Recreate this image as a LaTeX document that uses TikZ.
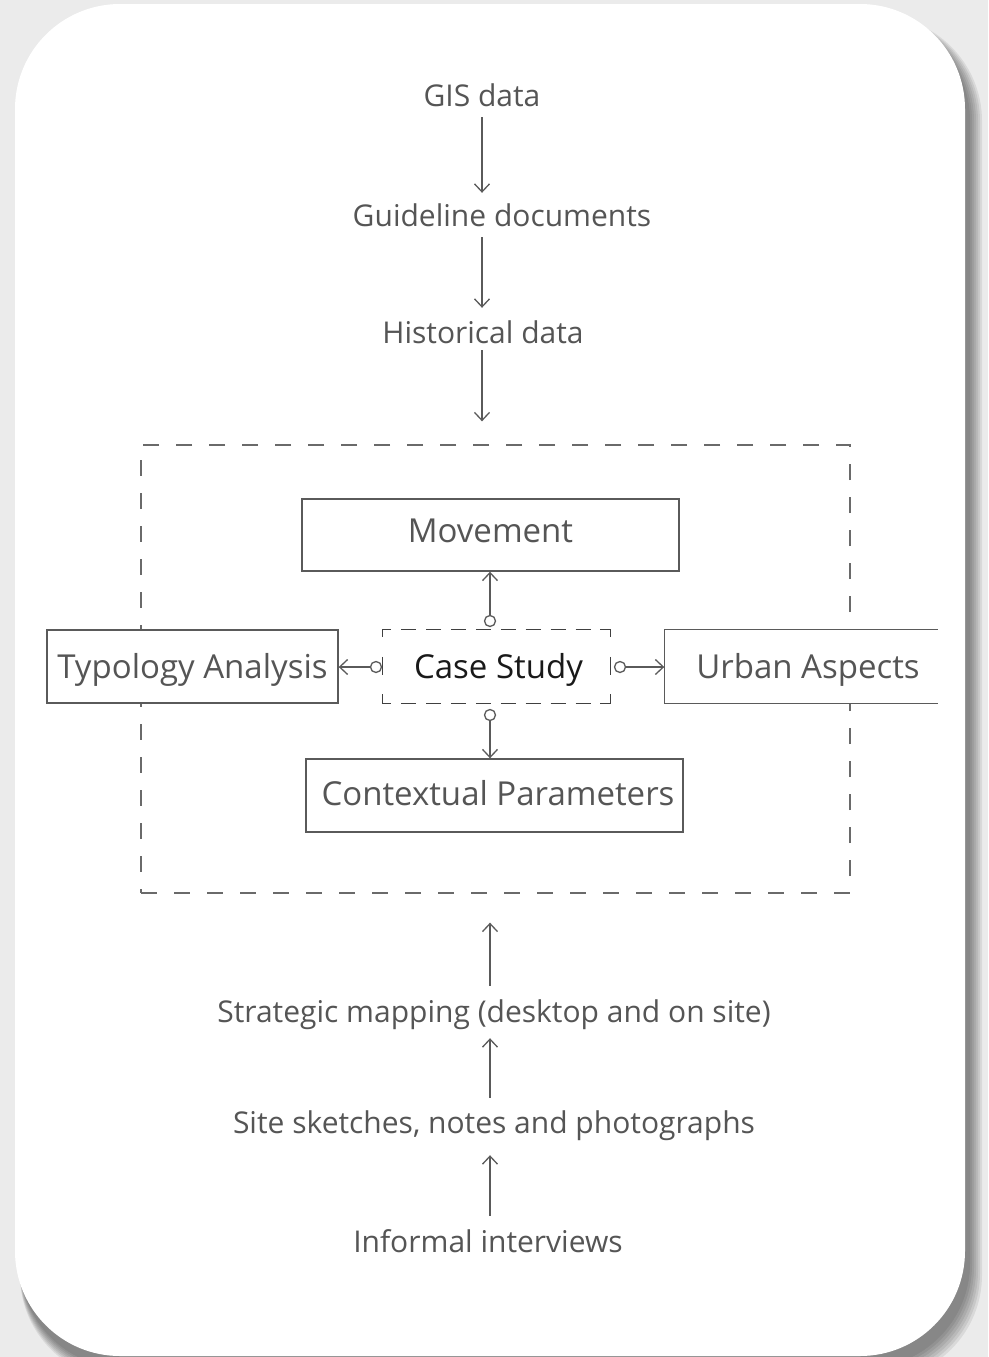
\documentclass[tikz,border=0pt]{standalone}
\usepackage{fontspec}
\setmainfont{Open Sans}
\usetikzlibrary{arrows.meta}
\definecolor{ln}{HTML}{5A5A5A}
\definecolor{dl}{HTML}{6A6A6A}
\definecolor{txt}{HTML}{555555}
\definecolor{bg}{HTML}{EBEBEB}
\begin{document}
\begin{tikzpicture}[x=1pt,y=-1pt,
  lbl/.style={text=txt,font=\fontsize{30}{36}\selectfont,inner sep=0pt,
    text height=21pt,text depth=7pt,anchor=base},
  box/.style={draw=ln,line width=1.4pt,fill=white,text=txt,
    font=\fontsize{33}{40}\selectfont,inner sep=0pt,
    text height=24pt,text depth=8pt},
  conn/.style={draw=ln,line width=1.3pt,
    -{Straight Barb[length=8pt,width=15pt,line width=1.3pt]}},
  ring/.style={circle,draw=ln,line width=1.3pt,fill=white,inner sep=0pt,
    minimum size=11pt}]
\useasboundingbox (0,0) rectangle (988,1357);
% background and card
\fill[bg] (0,0) rectangle (988,1357);
\foreach \d in {0,2,...,12}{
  \fill[black,opacity=0.075,rounded corners=105]
    (20,16) rectangle (970+\d,1368+\d);
}
\fill[white,rounded corners=105] (15,4) rectangle (965,1356);

% top labels
\coordinate (topaxis) at (482,0);
\coordinate (botaxis) at (490,0);
\node[lbl] (gis) at (482,106) {GIS data};
\node[lbl] (guide) at (502,226) {Guideline documents};
\node[lbl] (hist) at (483,343) {Historical data};

% big dashed frame
\node[draw=dl,line width=1.3pt,dash pattern=on 16pt off 17pt,
  minimum width=709pt,minimum height=448pt,inner sep=0pt] (frame) at (495.5,669) {};

% boxes
\node[box,minimum width=377pt,minimum height=72pt] (mov) at (490.5,535) {\raisebox{1pt}{Movement}};
\node[box,minimum width=291pt,minimum height=73pt] (typ) at (192.5,666.5) {\raisebox{-4.3pt}{Typology Analysis}};
\node[box,draw=none,minimum width=272pt,minimum height=73pt] (urb) at (801,666.5) {\hspace*{14pt}\raisebox{-4.3pt}{Urban Aspects}};
\draw[ln,line width=1.4pt] (urb.north east) -- (urb.north west) -- (urb.south west) -- (urb.south east);
\node[box,minimum width=377pt,minimum height=73pt] (ctx) at (494.5,795.5) {\hspace*{7pt}\raisebox{-1.5pt}{Contextual Parameters}};
\node[box,draw=none,text=black!90,minimum width=227pt,minimum height=73pt] (cs) at (496.5,666.5) {\hspace*{4pt}\raisebox{-4.3pt}{Case Study}};
\draw[black!75,line width=1.4pt,dash pattern=on 15pt off 9.9pt,dash phase=6pt]
  (cs.north west) -- (cs.north east);
\draw[black!75,line width=1.4pt,dash pattern=on 15pt off 9.9pt,dash phase=6pt]
  (cs.south west) -- (cs.south east);
\draw[black!75,line width=1.4pt,dash pattern=on 18pt off 19.5pt,dash phase=10pt]
  (cs.north west) -- (cs.south west);
\draw[black!75,line width=1.4pt,dash pattern=on 18pt off 19.5pt,dash phase=10pt]
  (cs.north east) -- (cs.south east);

% rings and connectors of case study
\node[ring] (rT) at (490,621) {};
\node[ring] (rB) at (490,715) {};
\node[ring] (rL) at (376,667) {};
\node[ring] (rR) at (620,667) {};
\draw[conn] (rT) -- (mov.south -| rT);
\draw[conn] (rB) -- (ctx.north -| rB);
\draw[conn] (rL) -- (typ.east |- rL);
\draw[conn] (rR) -- (urb.west |- rR);

% bottom labels
\node[lbl] (strat) at (494,1022) {Strategic mapping (desktop and on site)};
\node[lbl] (site) at (494,1133) {Site sketches, notes and photographs};
\node[lbl] (inf) at (488,1252) {Informal interviews};

% flow arrows
\draw[conn,shorten <=4pt,shorten >=12pt] (gis.south -| topaxis) -- (guide.north -| topaxis);
\draw[conn,shorten <=4pt,shorten >=14pt] (guide.south -| topaxis) -- (hist.north -| topaxis);
\draw[conn,shorten >=23pt] (hist.south -| topaxis) -- (frame.north -| topaxis);
\draw[conn,shorten <=15pt,shorten >=29pt] (strat.north -| botaxis) -- (frame.south -| botaxis);
\draw[conn,shorten <=14pt,shorten >=9pt] (site.north -| botaxis) -- (strat.south -| botaxis);
\draw[conn,shorten <=15pt,shorten >=15pt] (inf.north -| botaxis) -- (site.south -| botaxis);
\end{tikzpicture}
\end{document}
